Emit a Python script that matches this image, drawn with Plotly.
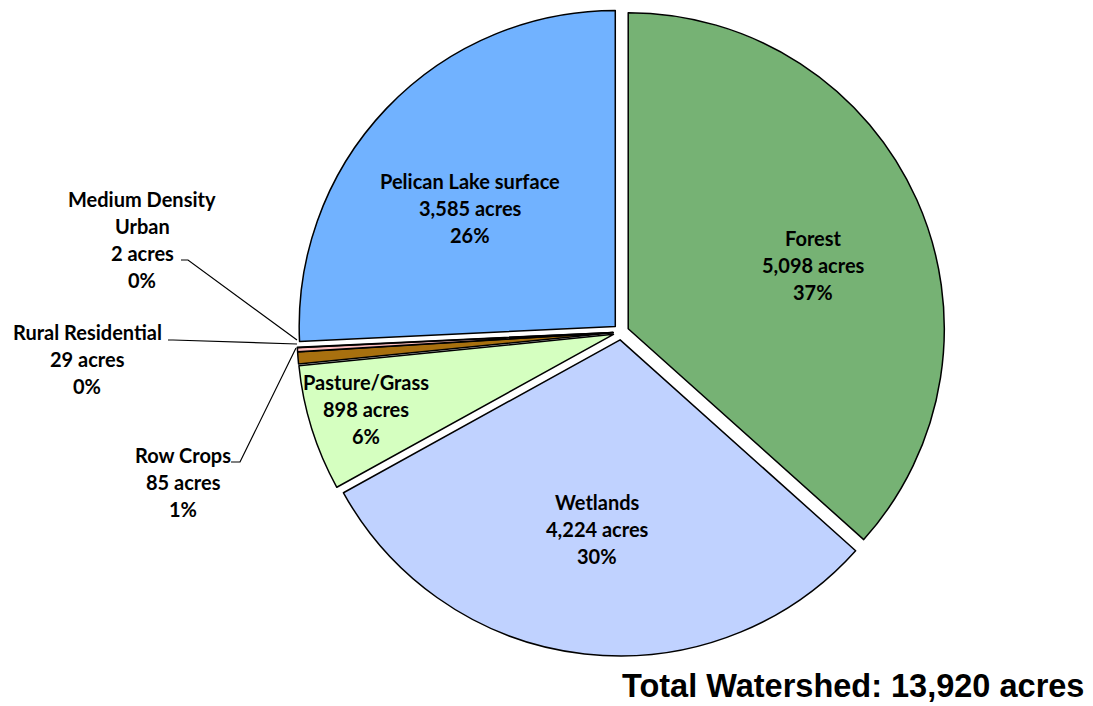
import plotly.graph_objects as go

# Land use in the Pelican Lake watershed (acres), clockwise from 12 o'clock
categories = ["Forest", "Wetlands", "Pasture/Grass", "Row Crops",
              "Rural Residential", "Medium Density Urban", "Pelican Lake surface"]
acres = [5098, 4224, 898, 85, 29, 2, 3585]
colours = ["#76B274", "#C0D2FF", "#D5FFC0", "#A8700F",
           "#FFBFC0", "#E04040", "#71B2FF"]
TOTAL_ACRES = 13920

W, H = 1093, 706
OFF = 8  # page body margin
FW, FH = W - OFF, H - OFF
FONT = "Lato, Calibri, sans-serif"


def px(x):
    return (x - OFF) / FW


def py(y):
    return 1 - (y - OFF) / FH


fig = go.Figure(go.Pie(
    labels=categories, values=acres,
    marker={"colors": colours, "line": {"color": "black", "width": 1.5}},
    sort=False, direction="clockwise", rotation=0,
    pull=[0.025] * len(acres),
    textinfo="none", hoverinfo="label+value+percent",
    domain={"x": [px(297), px(945)], "y": [py(656), 1]},
    showlegend=False,
))

# label placement: centre x, first line y (reference pixels)
label_pos = {
    "Forest":               (813, 238),
    "Wetlands":             (597, 502),
    "Pasture/Grass":        (366, 382),
    "Pelican Lake surface": (470, 181),
    "Row Crops":            (183, 455),
    "Rural Residential":    (87, 332),
    "Medium Density Urban": (142, 199),
}
total = sum(acres)
annotations = []
for name, a in zip(categories, acres):
    cx, y0 = label_pos[name]
    lines = ["Medium Density", "Urban"] if name == "Medium Density Urban" else [name]
    lines += [f"{a:,} acres", f"{round(a / total * 100)}%"]
    for i, t in enumerate(lines):
        annotations.append(dict(
            x=px(cx), y=py(y0 + i * 27), xref="paper", yref="paper",
            text=f"<b>{t}</b>", showarrow=False,
            xanchor="center", yanchor="middle",
            font={"family": FONT, "size": 20, "color": "black"},
        ))

annotations.append(dict(
    x=px(1086), y=py(686), xref="paper", yref="paper",
    text=f"<b>Total Watershed: {TOTAL_ACRES:,} acres</b>", showarrow=False,
    xanchor="right", yanchor="middle",
    font={"family": "Liberation Sans, Arial, sans-serif", "size": 32.5, "color": "black"},
))

# leader lines for the tiny slices
leaders = [
    [(181, 260), (188, 260), (297, 340)],
    [(168, 340), (173, 340), (297, 344)],
    [(231, 462), (240, 462), (296, 348)],
]
shapes = []
for pts in leaders:
    path = "M " + " L ".join(f"{px(x)},{py(y)}" for x, y in pts)
    shapes.append(dict(type="path", path=path, xref="paper", yref="paper",
                       line={"color": "black", "width": 1.2}))

fig.update_layout(
    width=FW, height=FH,
    paper_bgcolor="white", plot_bgcolor="white",
    margin={"t": 0, "b": 0, "l": 0, "r": 0},
    annotations=annotations, shapes=shapes,
)

fig.write_html("out.html")
